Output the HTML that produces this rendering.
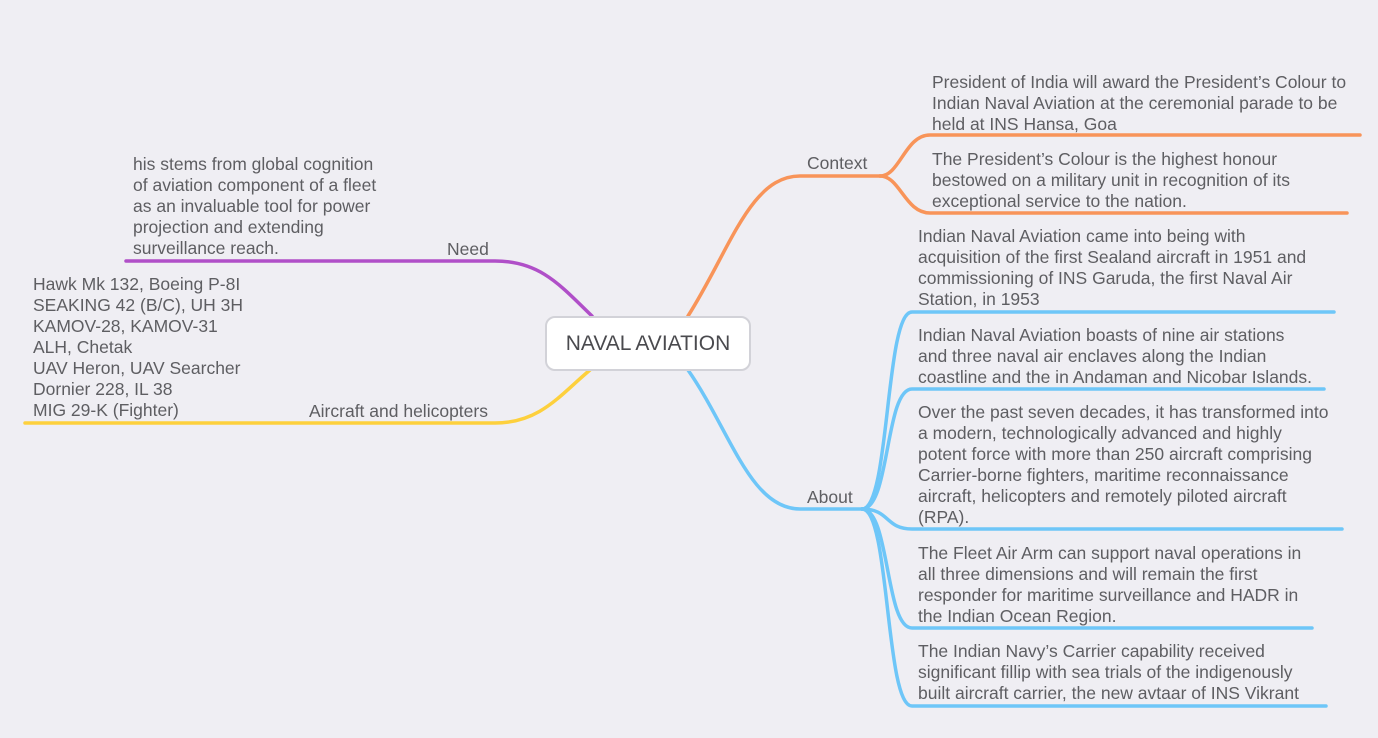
<!DOCTYPE html>
<html><head><meta charset="utf-8"><style>
html,body{margin:0;padding:0;}
body{width:1378px;height:738px;background:#efeef3;position:relative;overflow:hidden;font-family:"Liberation Sans",sans-serif;color:#5e5e62;}
.t{position:absolute;font-size:17.5px;line-height:21px;white-space:nowrap;}
svg{position:absolute;left:0;top:0;}
.c{position:absolute;left:545px;top:316px;width:202px;height:51px;background:#fff;border:2.5px solid #d2d2d8;border-radius:10px;font-size:21px;line-height:51px;text-align:center;color:#4a4a4e;}
</style></head><body>
<svg width="1378" height="738" fill="none" stroke-width="3.5" stroke-linecap="round">
<g stroke="#f89459">
<path d="M688 316 C730 250 750 176 800 176 L880 176"/>
<path d="M880 176 C900 176 905 135 930 135 L1360 135"/>
<path d="M880 176 C900 176 905 213 930 213 L1347 213"/>
</g>
<g stroke="#6ec6f8">
<path d="M688 370 C730 430 750 509 800 509 L862 509"/>
<path d="M862 509 C890 509 885 312 912 312 L1334 312"/>
<path d="M862 509 C890 509 885 389 912 389 L1324 389"/>
<path d="M862 509 C890 509 885 529 912 529 L1342 529"/>
<path d="M862 509 C890 509 885 628 912 628 L1312 628"/>
<path d="M862 509 C890 509 885 706 912 706 L1326 706"/>
</g>
<g stroke="#b04fc8">
<path d="M592 316 C560 285 540 261 495 261 L126 261"/>
</g>
<g stroke="#fdd03d">
<path d="M590 370 C560 395 540 423 495 423 L25 423"/>
</g>
</svg>
<div class="c">NAVAL AVIATION</div>
<div class="t" style="left:807px;top:153px">Context</div>
<div class="t" style="left:932px;top:72px">President of India will award the President’s Colour to<br>Indian Naval Aviation at the ceremonial parade to be<br>held at INS Hansa, Goa</div>
<div class="t" style="left:932px;top:149px">The President’s Colour is the highest honour<br>bestowed on a military unit in recognition of its<br>exceptional service to the nation.</div>
<div class="t" style="left:807px;top:487px">About</div>
<div class="t" style="left:918px;top:226px">Indian Naval Aviation came into being with<br>acquisition of the first Sealand aircraft in 1951 and<br>commissioning of INS Garuda, the first Naval Air<br>Station, in 1953</div>
<div class="t" style="left:918px;top:325px">Indian Naval Aviation boasts of nine air stations<br>and three naval air enclaves along the Indian<br>coastline and the in Andaman and Nicobar Islands.</div>
<div class="t" style="left:918px;top:402px">Over the past seven decades, it has transformed into<br>a modern, technologically advanced and highly<br>potent force with more than 250 aircraft comprising<br>Carrier-borne fighters, maritime reconnaissance<br>aircraft, helicopters and remotely piloted aircraft<br>(RPA).</div>
<div class="t" style="left:918px;top:543px">The Fleet Air Arm can support naval operations in<br>all three dimensions and will remain the first<br>responder for maritime surveillance and HADR in<br>the Indian Ocean Region.</div>
<div class="t" style="left:918px;top:641px">The Indian Navy’s Carrier capability received<br>significant fillip with sea trials of the indigenously<br>built aircraft carrier, the new avtaar of INS Vikrant</div>
<div class="t" style="left:447px;top:239px">Need</div>
<div class="t" style="left:133px;top:154px">his stems from global cognition<br>of aviation component of a fleet<br>as an invaluable tool for power<br>projection and extending<br>surveillance reach.</div>
<div class="t" style="left:309px;top:401px">Aircraft and helicopters</div>
<div class="t" style="left:33px;top:274px">Hawk Mk 132, Boeing P-8I<br>SEAKING 42 (B/C), UH 3H<br>KAMOV-28, KAMOV-31<br>ALH, Chetak<br>UAV Heron, UAV Searcher<br>Dornier 228, IL 38<br>MIG 29-K (Fighter)</div>
</body></html>
